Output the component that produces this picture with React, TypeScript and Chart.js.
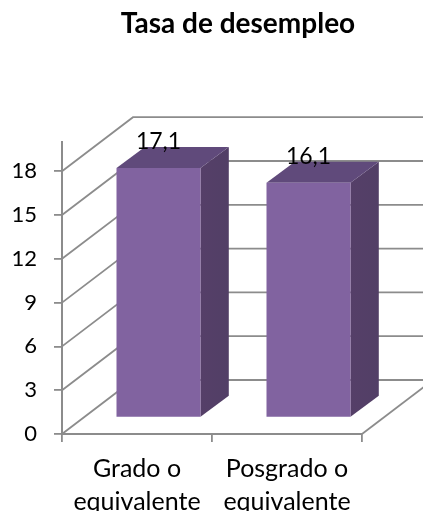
import React, { useEffect, useRef } from "react";
import { Chart, registerables } from "chart.js";

Chart.register(...registerables);

const categories = [["Grado o", "equivalente"], ["Posgrado o", "equivalente"]];
const values = [17.1, 16.1];
const valueLabels = ["17,1", "16,1"];
const chartTitle = "Tasa de desempleo";
const gridValues = [0, 3, 6, 9, 12, 15, 18];

const FONT = "Lato, Carlito, Calibri, sans-serif";
const GRID = "#8c8c8c";
const WALL_DX = 71;
const WALL_DY = 54;
const BAR_SHIFT_X = 21.5;
const BAR_SHIFT_Y = 16.3;
const BAR_DX = 28.3;
const BAR_DY = 21;

const threeD = {
  id: "threeD",
  afterLayout(chart: any) {
    chart.titleBlock.left += 57;
    chart.titleBlock.right += 57;
  },
  beforeDatasetsDraw(chart: any) {
    const { ctx, scales, width } = chart;
    const { x, y } = scales;
    ctx.save();
    ctx.strokeStyle = GRID;
    ctx.lineWidth = 1.8;
    for (const v of gridValues) {
      const py = y.getPixelForValue(v);
      ctx.beginPath();
      ctx.moveTo(x.left, py);
      ctx.lineTo(x.left + WALL_DX, py - WALL_DY);
      ctx.lineTo(width + 2, py - WALL_DY);
      ctx.stroke();
    }
    const py0 = y.getPixelForValue(0);
    ctx.beginPath();
    ctx.moveTo(x.right, py0);
    ctx.lineTo(x.right + WALL_DX, py0 - WALL_DY);
    ctx.stroke();
    ctx.restore();
  },
  beforeDatasetDraw(chart: any, args: any) {
    const { ctx } = chart;
    const bars = chart.getDatasetMeta(args.index).data;
    ctx.save();
    ctx.translate(BAR_SHIFT_X, -BAR_SHIFT_Y);
    for (const bar of bars) {
      const l = bar.x - bar.width / 2;
      const r = bar.x + bar.width / 2;
      const side = ctx.createLinearGradient(r, 0, r + BAR_DX, 0);
      side.addColorStop(0, "#553f68");
      side.addColorStop(1, "#523f66");
      ctx.fillStyle = side;
      ctx.beginPath();
      ctx.moveTo(r, bar.y);
      ctx.lineTo(r + BAR_DX, bar.y - BAR_DY);
      ctx.lineTo(r + BAR_DX, bar.base - BAR_DY);
      ctx.lineTo(r, bar.base);
      ctx.closePath();
      ctx.fill();
      ctx.fillStyle = "#604a7b";
      ctx.beginPath();
      ctx.moveTo(l, bar.y);
      ctx.lineTo(l + BAR_DX, bar.y - BAR_DY);
      ctx.lineTo(r + BAR_DX, bar.y - BAR_DY);
      ctx.lineTo(r, bar.y);
      ctx.closePath();
      ctx.fill();
    }
  },
  afterDatasetDraw(chart: any) {
    chart.ctx.restore();
  },
  afterDatasetsDraw(chart: any) {
    const { ctx } = chart;
    const bars = chart.getDatasetMeta(0).data;
    ctx.save();
    ctx.fillStyle = "#000";
    ctx.font = `23px ${FONT}`;
    ctx.textAlign = "center";
    ctx.textBaseline = "middle";
    bars.forEach((bar: any, i: number) => {
      ctx.fillText(valueLabels[i], bar.x + BAR_SHIFT_X, bar.y - BAR_SHIFT_Y - 26);
    });
    ctx.restore();
  },
};

export default function App() {
  const ref = useRef<HTMLCanvasElement>(null);
  useEffect(() => {
    const chart = new Chart(ref.current!, {
      type: "bar",
      data: {
        labels: categories,
        datasets: [{ data: values, backgroundColor: "#8163a0", barPercentage: 0.56, categoryPercentage: 1 }],
      },
      plugins: [threeD],
      options: {
        responsive: false,
        animation: false,
        devicePixelRatio: 1,
        layout: { padding: { left: 0, right: 61, top: 0, bottom: 0 } },
        plugins: {
          legend: { display: false },
          tooltip: { enabled: false },
          title: {
            display: true,
            text: chartTitle,
            color: "#000",
            font: { family: FONT, size: 28, weight: "bold", lineHeight: 1.2 },
            padding: { top: 7, bottom: 101.4 },
          },
        },
        scales: {
          x: {
            afterFit: (s: any) => { s.height = 77; },
            grid: { drawOnChartArea: false, color: GRID, tickLength: 8, lineWidth: 1.8 },
            border: { color: GRID, width: 2 },
            ticks: { color: "#000", padding: 11, maxRotation: 0, autoSkip: false, font: { family: FONT, size: 25, lineHeight: 1.3 } },
          },
          y: {
            min: 0,
            max: 20,
            bounds: "data",
            afterFit: (s: any) => { s.width = 62; },
            afterBuildTicks: (s: any) => { s.ticks = gridValues.map((value) => ({ value })); },
            grid: { drawOnChartArea: false, color: GRID, tickLength: 8, lineWidth: 1.8 },
            border: { color: GRID, width: 2 },
            ticks: { color: "#000", padding: 17, font: { family: FONT, size: 22 } },
          },
        },
      } as any,
    });
    return () => chart.destroy();
  }, []);
  return <canvas ref={ref} width={423} height={511} style={{ position: "absolute", left: 0, top: 0 }} />;
}
